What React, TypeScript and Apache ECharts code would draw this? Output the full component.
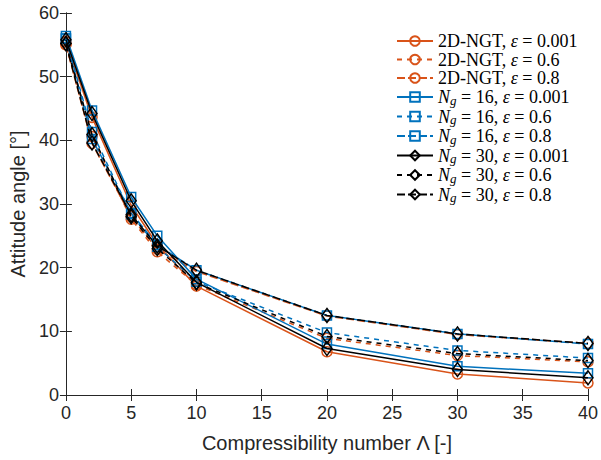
import React, { useEffect, useRef } from "react";
import * as echarts from "echarts";

const xValues = [0, 2, 5, 7, 10, 20, 30, 40];

const ngt001 = [55.5, 43.6, 29.8, 23.6, 17.1, 6.8, 3.3, 1.9];
const ngt06 = [55.0, 40.6, 27.6, 22.5, 17.3, 8.9, 6.2, 5.2];
const ngt08 = [55.0, 39.5, 28.0, 22.9, 19.4, 12.4, 9.5, 8.1];

const ng16_001 = [56.4, 44.7, 31.1, 25.0, 18.2, 8.0, 4.5, 3.4];
const ng16_06 = [56.0, 41.3, 28.4, 23.3, 17.8, 9.8, 7.0, 5.8];
const ng16_08 = [56.0, 40.2, 28.6, 23.6, 19.6, 12.5, 9.6, 8.0];

const ng30_001 = [55.8, 44.2, 30.5, 24.2, 17.7, 7.3, 4.0, 2.7];
const ng30_06 = [55.2, 40.9, 28.0, 23.0, 17.6, 9.2, 6.5, 5.4];
const ng30_08 = [55.2, 39.6, 28.3, 23.4, 19.6, 12.5, 9.6, 8.1];

const seriesNames = [
  "2D-NGT, eps = 0.001",
  "2D-NGT, eps = 0.6",
  "2D-NGT, eps = 0.8",
  "Ng = 16, eps = 0.001",
  "Ng = 16, eps = 0.6",
  "Ng = 16, eps = 0.8",
  "Ng = 30, eps = 0.001",
  "Ng = 30, eps = 0.6",
  "Ng = 30, eps = 0.8",
];

const ORANGE = "#D95319";
const BLUE = "#0072BD";
const BLACK = "#000000";

export default function App() {
  const ref = useRef<HTMLDivElement>(null);
  useEffect(() => {
    if (!ref.current) return;
    const chart = echarts.init(ref.current, null, { renderer: "svg" });
    const dataSets = [ngt001, ngt06, ngt08, ng16_001, ng16_06, ng16_08, ng30_001, ng30_06, ng30_08];
    const colors = [ORANGE, ORANGE, ORANGE, BLUE, BLUE, BLUE, BLACK, BLACK, BLACK];
    const symbols = ["circle", "circle", "circle", "rect", "rect", "rect", "diamond", "diamond", "diamond"];
    const sizes: any[] = [10, 10, 10, 9, 9, 9, [10, 14], [10, 14], [10, 14]];
    const dashes: any[] = ["solid", [5, 5], [8, 3]];
    const series = dataSets.map((d, i) => ({
      name: seriesNames[i],
      type: "line",
      data: d.map((v, j) => [xValues[j], v]),
      symbol: symbols[i],
      symbolSize: sizes[i],
      showAllSymbol: true,
      lineStyle: { color: colors[i], width: 1.5, type: dashes[i % 3] },
      itemStyle: { color: "rgba(255,255,255,0)", borderColor: colors[i], borderWidth: 1.5 },
      emphasis: { disabled: true },
      z: 2 + i,
    }));

    const fmt = (name: string) => {
      const eps = name.split("eps = ")[1];
      if (name.startsWith("2D")) {
        return `{r|2D-NGT, }{i|ε}{r| = ${eps}}`;
      }
      const ng = name.startsWith("Ng = 16") ? "16" : "30";
      return `{i|N}{s|g}{r| = ${ng}, }{i|ε}{r| = ${eps}}`;
    };

    const axisCommon = {
      axisLine: { show: true, lineStyle: { color: "#262626", width: 1 } },
      axisTick: { show: true, inside: true, length: 6, lineStyle: { color: "#262626" } },
      splitLine: { show: false },
    };

    chart.setOption({
      animation: false,
      backgroundColor: "#ffffff",
      grid: { left: 63, right: 10, top: 13, bottom: 65, containLabel: false },
      legend: {
        show: true,
        orient: "vertical",
        left: 391,
        top: 27,
        itemWidth: 36,
        itemHeight: 12,
        itemGap: 0.5,
        data: seriesNames,
        formatter: fmt,
        textStyle: {
          rich: {
            r: { fontFamily: "Liberation Serif", fontSize: 18, lineHeight: 19, color: "#000" },
            i: { fontFamily: "Liberation Serif", fontStyle: "italic", fontSize: 18, lineHeight: 19, color: "#000" },
            s: { fontFamily: "Liberation Serif", fontStyle: "italic", fontSize: 13, lineHeight: 13, color: "#000", padding: [6, 0, 0, 0] },
          },
        },
      },
      xAxis: [
        {
          type: "value",
          min: 0,
          max: 40,
          interval: 5,
          position: "bottom",
          name: "Compressibility number Λ [-]",
          nameLocation: "middle",
          nameGap: 38,
          nameTextStyle: { fontFamily: "Liberation Sans", fontSize: 20, color: "#262626" },
          axisLabel: { fontFamily: "Liberation Sans", fontSize: 18, color: "#262626", margin: 9 },
          ...axisCommon,
        },
        {
          type: "value",
          min: 0,
          max: 40,
          interval: 5,
          position: "top",
          axisLabel: { show: false },
          ...axisCommon,
        },
      ],
      yAxis: [
        {
          type: "value",
          min: 0,
          max: 60,
          interval: 10,
          position: "left",
          name: "Attitude angle [°]",
          nameLocation: "middle",
          nameGap: 34,
          nameTextStyle: { fontFamily: "Liberation Sans", fontSize: 20, color: "#262626" },
          axisLabel: { fontFamily: "Liberation Sans", fontSize: 18, color: "#262626", margin: 7 },
          ...axisCommon,
        },
        {
          type: "value",
          min: 0,
          max: 60,
          interval: 10,
          position: "right",
          axisLabel: { show: false },
          ...axisCommon,
        },
      ],
      series,
    });
    return () => chart.dispose();
  }, []);
  return <div ref={ref} style={{ width: 601, height: 460, position: "absolute", left: 0, top: 0 }} />;
}
